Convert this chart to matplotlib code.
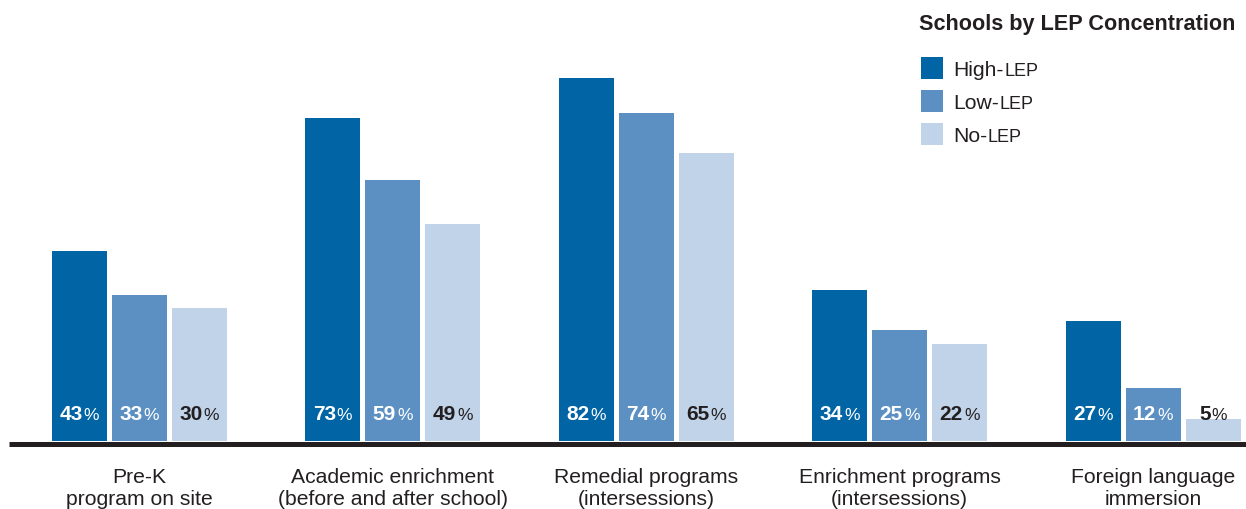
import matplotlib.pyplot as plt
from matplotlib.patches import Rectangle

plt.rcParams['font.family'] = ['Liberation Sans', 'DejaVu Sans']

# data
categories = ['Pre-K\nprogram on site',
              'Academic enrichment\n(before and after school)',
              'Remedial programs\n(intersessions)',
              'Enrichment programs\n(intersessions)',
              'Foreign language\nimmersion']
high_lep = [43, 73, 82, 34, 27]
low_lep = [33, 59, 74, 25, 12]
no_lep = [30, 49, 65, 22, 5]
series_names = ['High-', 'Low-', 'No-']

colors = ['#0064a5', '#5c90c3', '#c0d3e8']
label_colors = ['white', 'white', '#231f20']
dark = '#231f20'

W, H = 1246, 510
fig = plt.figure(figsize=(W / 100, H / 100), dpi=100)
renderer = fig.canvas.get_renderer()

# axes: baseline at pixel 442, top at pixel 0
base_px = 442
ax = fig.add_axes([0, (H - base_px) / H, 1, base_px / H])
px_per_pct = 4.43
ax.set_ylim(0, base_px / px_per_pct)
pitch = 253.5
c0 = 139.0
ax.set_xlim(-c0 / pitch, (W - c0) / pitch)
ax.axis('off')

bw = 55 / pitch
step = 60 / pitch
x = list(range(len(categories)))

for k, vals in enumerate([high_lep, low_lep, no_lep]):
    xs = [i + (k - 1) * step for i in x]
    ax.bar(xs, vals, width=bw, color=colors[k], linewidth=0)
    for xi, v in zip(xs, vals):
        cx, cy = ax.transData.transform((xi, 0))
        cy = H - 420  # label baseline in pixels
        num = fig.text(0, 0, str(v), fontsize=15, fontweight='bold',
                       color=label_colors[k], ha='left', va='baseline',
                       transform=None)
        pct = fig.text(0, 0, '%', fontsize=12.5, color=label_colors[k],
                       ha='left', va='baseline', transform=None)
        wn = num.get_window_extent(renderer).width
        wp = pct.get_window_extent(renderer).width
        left = cx - (wn + wp + 1) / 2
        num.set_position((left, cy))
        pct.set_position((left + wn + 1, cy))

# baseline
ax.plot([(9 - c0) / pitch, (W - c0) / pitch], [-2.5 / px_per_pct] * 2,
        color=dark, lw=3.6, solid_capstyle='butt', clip_on=False)

# category labels
for i, cat in enumerate(categories):
    ax.text(i, -26 / px_per_pct, cat, ha='center', va='top', fontsize=15.2,
            color=dark, linespacing=1.2, clip_on=False)

# legend
def fx(p):
    return p / W

def fy(p):
    return 1 - p / H

fig.text(fx(919), fy(30), 'Schools by LEP Concentration', ha='left',
         va='baseline', fontsize=15.6, fontweight='bold', color=dark)
tops = [58, 91, 124]
for k, name in enumerate(series_names):
    fig.patches.append(Rectangle((fx(921), fy(tops[k] + 22)), fx(22), 22 / H,
                                 transform=fig.transFigure, color=colors[k],
                                 linewidth=0))
    t = fig.text(953, H - (tops[k] + 18), name, ha='left', va='baseline',
                 fontsize=15.2, color=dark, transform=None)
    wt = t.get_window_extent(renderer).width
    fig.text(953 + wt + 0.5, H - (tops[k] + 18), 'LEP', ha='left',
             va='baseline', fontsize=13, color=dark, transform=None)

fig.savefig('out.png', dpi=100)
